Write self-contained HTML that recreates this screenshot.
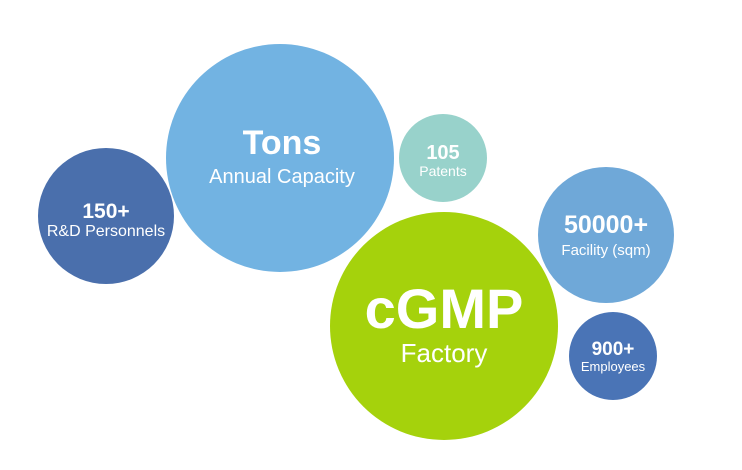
<!DOCTYPE html>
<html><head><style>
html,body{margin:0;padding:0;background:#fff;width:742px;height:470px;overflow:hidden}
svg text{font-family:"Liberation Sans",sans-serif;fill:#fff;text-anchor:middle}
</style></head><body>
<svg width="742" height="470" viewBox="0 0 742 470" xmlns="http://www.w3.org/2000/svg">
<circle cx="106" cy="216" r="68" fill="#4a6fac"/>
<circle cx="280" cy="158" r="114" fill="#72b3e2"/>
<circle cx="443" cy="158" r="44" fill="#98d2cb"/>
<circle cx="606" cy="235" r="68" fill="#6fa8d8"/>
<circle cx="444" cy="326" r="114" fill="#a5d20c"/>
<circle cx="613" cy="356" r="44" fill="#4a74b6"/>
<text x="282" y="154" font-size="34" font-weight="bold">Tons</text>
<text x="282" y="183" font-size="20">Annual Capacity</text>
<text x="106" y="218" font-size="21" font-weight="bold">150+</text>
<text x="106" y="236" font-size="16">R&amp;D Personnels</text>
<text x="443" y="159" font-size="20" font-weight="bold">105</text>
<text x="443" y="176" font-size="14">Patents</text>
<text x="606" y="233" font-size="25" font-weight="bold">50000+</text>
<text x="606" y="255" font-size="15">Facility (sqm)</text>
<text x="444" y="328" font-size="56" font-weight="bold">cGMP</text>
<text x="444" y="362" font-size="26">Factory</text>
<text x="613" y="355" font-size="19" font-weight="bold">900+</text>
<text x="613" y="371" font-size="13">Employees</text>
</svg>
</body></html>
